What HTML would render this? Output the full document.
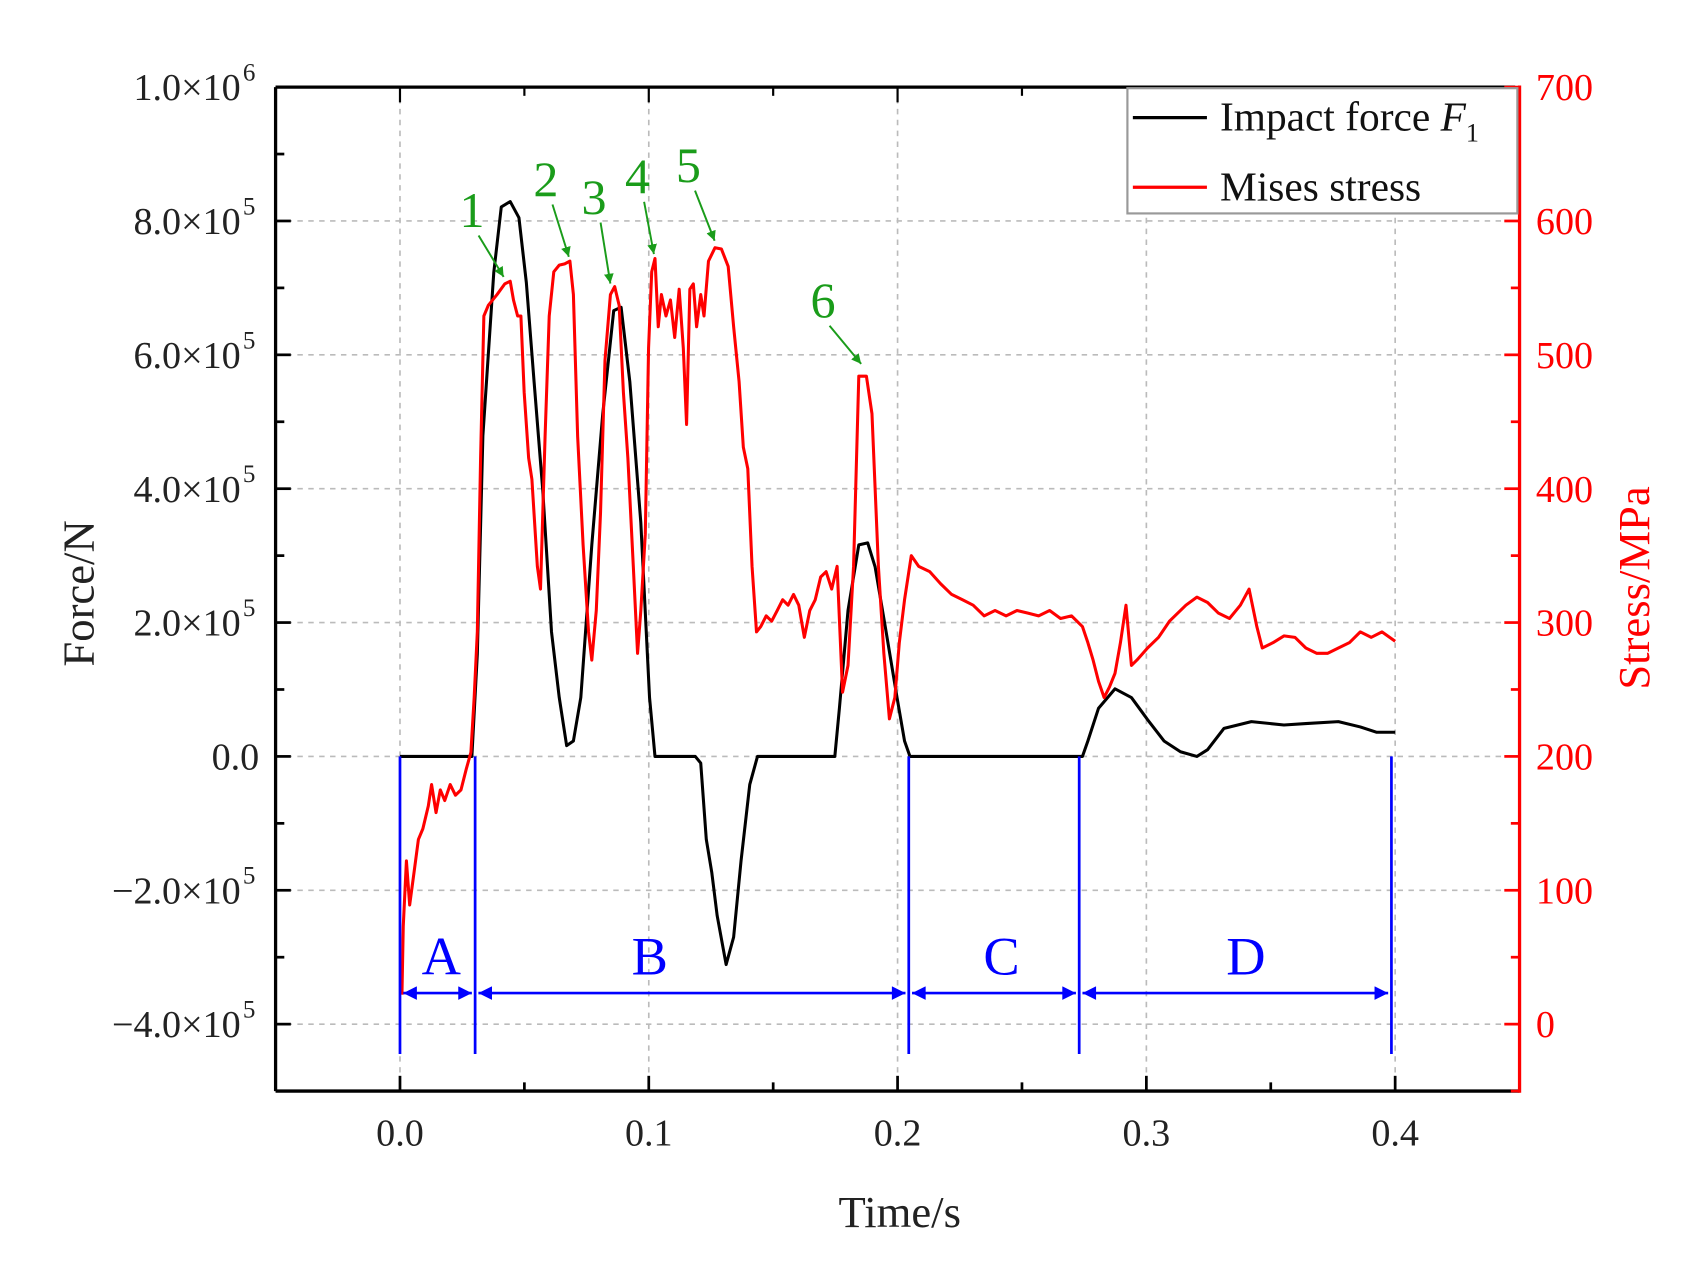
<!DOCTYPE html>
<html><head><meta charset="utf-8"><style>
html,body{margin:0;padding:0;background:#fff;}
svg{display:block;}
text{font-family:"Liberation Serif",serif;}
</style></head><body>
<svg id="chart" width="1708" height="1274" viewBox="0 0 1568 1170" preserveAspectRatio="none" xmlns="http://www.w3.org/2000/svg">
<g id="grid"></g>
<g id="axes"></g>
<g id="series"></g>
<g id="annot"></g>
</svg>
<script>
const forceT=[0,0.0289,0.0311,0.0333,0.0377,0.0407,0.0443,0.0478,0.0508,0.0539,0.0574,0.0609,0.0640,0.0670,0.0697,0.0727,0.0771,0.0815,0.0859,0.0889,0.0924,0.0968,0.1003,0.1025,0.1187,0.1209,0.1231,0.1253,0.1275,0.1311,0.1341,0.1371,0.1406,0.1437,0.1748,0.1766,0.1801,0.1844,0.1880,0.1910,0.1954,0.1998,0.2028,0.2050,0.2743,0.2765,0.2808,0.2874,0.2940,0.3005,0.3071,0.3137,0.3203,0.3246,0.3312,0.3422,0.3553,0.3641,0.3772,0.3860,0.3926,0.4000];
const forceV=[0,0,1.53,4.79,7.23,8.21,8.29,8.05,7.08,5.60,3.97,1.86,0.88,0.16,0.23,0.88,3.16,5.11,6.66,6.71,5.60,3.49,0.88,0,0,-0.10,-1.24,-1.73,-2.38,-3.11,-2.70,-1.56,-0.42,0,0,0.72,2.18,3.16,3.19,2.83,1.86,0.88,0.23,0,0,0.23,0.72,1.01,0.88,0.55,0.23,0.07,0,0.10,0.42,0.52,0.47,0.49,0.52,0.44,0.36,0.36];
const stressT=[0.0008,0.0013,0.0026,0.0039,0.0057,0.0074,0.0092,0.0114,0.0127,0.0145,0.0162,0.0180,0.0202,0.0223,0.0245,0.0267,0.0285,0.0298,0.0311,0.0324,0.0337,0.0355,0.0390,0.0421,0.0443,0.0456,0.0473,0.0486,0.0499,0.0517,0.0530,0.0552,0.0565,0.0583,0.0600,0.0618,0.0640,0.0662,0.0683,0.0697,0.0714,0.0736,0.0758,0.0771,0.0789,0.0806,0.0824,0.0846,0.0863,0.0881,0.0898,0.0916,0.0938,0.0955,0.0968,0.0986,0.0999,0.1012,0.1025,0.1038,0.1051,0.1069,0.1087,0.1104,0.1122,0.1139,0.1152,0.1165,0.1179,0.1192,0.1209,0.1222,0.1240,0.1266,0.1292,0.1319,0.1341,0.1363,0.1380,0.1398,0.1415,0.1433,0.1450,0.1472,0.1494,0.1516,0.1538,0.1560,0.1582,0.1603,0.1625,0.1647,0.1669,0.1691,0.1713,0.1735,0.1757,0.1779,0.1801,0.1823,0.1844,0.1875,0.1897,0.1923,0.1945,0.1967,0.1989,0.2007,0.2028,0.2055,0.2085,0.2129,0.2173,0.2217,0.2261,0.2304,0.2348,0.2392,0.2436,0.2480,0.2524,0.2567,0.2611,0.2655,0.2699,0.2743,0.2765,0.2786,0.2808,0.2830,0.2852,0.2874,0.2896,0.2918,0.2940,0.2962,0.3005,0.3049,0.3093,0.3159,0.3203,0.3246,0.3290,0.3334,0.3378,0.3413,0.3444,0.3466,0.3509,0.3553,0.3597,0.3641,0.3685,0.3728,0.3772,0.3816,0.3860,0.3904,0.3947,0.4000];
const stressV=[22,73,122,89,114,138,146,163,179,158,175,167,179,171,175,191,203,244,293,423,529,537,545,553,555,541,529,529,472,423,407,342,325,439,529,562,567,568,570,545,439,358,293,272,309,382,496,545,551,537,472,423,342,277,309,366,505,562,572,521,545,529,541,513,549,505,448,549,553,521,545,529,570,580,579,566,521,480,431,415,342,293,297,305,301,309,317,313,321,313,289,309,317,334,338,325,342,248,268,342,484,484,456,342,277,228,244,285,317,350,342,338,329,321,317,313,305,309,305,309,307,305,309,303,305,297,285,272,256,244,252,262,285,313,268,272,281,289,301,313,319,315,307,303,313,325,297,281,285,290,289,281,277,277,281,285,293,289,293,286];
const xTicks=[0,0.1,0.2,0.3,0.4];
const xTickLabels=["0.0","0.1","0.2","0.3","0.4"];
const yTicks=[-4,-2,0,2,4,6,8,10];
const yMant=["\u22124.0","\u22122.0","0.0","2.0","4.0","6.0","8.0","1.0"];
const yExp=["5","5","","5","5","5","5","6"];
const y2Ticks=[0,100,200,300,400,500,600,700];
const phaseT=[0,0.0302,0.2045,0.2730,0.3985];
const phaseLabels=["A","B","C","D"];
const phaseLabelT=[0.0166,0.1004,0.2418,0.3400];
const peakLabels=["1","2","3","4","5","6"];
const peakT=[0.0421,0.0683,0.0850,0.1025,0.1269,0.1858];
const peakS=[555,570,550,572,582,490];

const L=253,R=1395,T=80,B=1002;
const X=t=>L+(t+0.05)/0.5*(R-L);
const Y=v=>B-(v+5)/15*(B-T);
const Y2=s=>B-(s+50)/750*(B-T);
const NS="http://www.w3.org/2000/svg";
function mk(tag,attrs,parent,txt){const e=document.createElementNS(NS,tag);for(const k in attrs)e.setAttribute(k,attrs[k]);if(txt!==undefined)e.textContent=txt;parent.appendChild(e);return e;}
const grid=document.getElementById('grid'),axes=document.getElementById('axes'),series=document.getElementById('series'),annot=document.getElementById('annot');

xTicks.forEach(t=>{const g=mk('line',{x1:X(t),x2:X(t),y1:T,y2:B,stroke:'#bbb','stroke-width':1.5,'stroke-dasharray':'5,5'},grid);
});
yTicks.forEach(v=>{const g=mk('line',{x1:L,x2:R,y1:Y(v),y2:Y(v),stroke:'#bbb','stroke-width':1.5,'stroke-dasharray':'5,5'},grid);
});

let e=mk('line',{x1:L,x2:R,y1:B,y2:B,stroke:'#000','stroke-width':3},axes);
e=mk('line',{x1:L,x2:R-4,y1:T,y2:T,stroke:'#000','stroke-width':3},axes);
e=mk('line',{x1:L,x2:L,y1:T,y2:B,stroke:'#000','stroke-width':3},axes);
e=mk('line',{x1:R,x2:R,y1:T-1.5,y2:B+1.5,stroke:'#f00','stroke-width':3},axes);

for(let i=0;i<=8;i++){const t=i*0.05;const len=(i%2===0)?14:8;
 e=mk('line',{x1:X(t),x2:X(t),y1:B,y2:B-len,stroke:'#000','stroke-width':2.5},axes);
 e=mk('line',{x1:X(t),x2:X(t),y1:T,y2:T+len,stroke:'#000','stroke-width':2},axes);}
xTicks.forEach((t,i)=>{e=mk('text',{x:X(t),y:1052,'font-size':35,'text-anchor':'middle',fill:'#222'},axes,xTickLabels[i]);});
for(let v=-5;v<=10;v++){const len=(v%2===0)?14:8;
 e=mk('line',{x1:L,x2:L+len,y1:Y(v),y2:Y(v),stroke:'#000','stroke-width':2.5},axes);}
yTicks.forEach((v,i)=>{const tx=mk('text',{x:yExp[i]?221:238,y:Y(v)+12,'font-size':35,'text-anchor':'end',fill:'#222'},axes);
 
 tx.textContent=yExp[i]?yMant[i]+"\u00d710":yMant[i];
 if(yExp[i]){const s=mk('text',{x:223,y:Y(v)-6,'font-size':23,fill:'#222'},axes,yExp[i]);}
});
for(let s=-50;s<=700;s+=50){const len=(s%100===0)?14:8;
 e=mk('line',{x1:R,x2:R-len,y1:Y2(s),y2:Y2(s),stroke:'#f00','stroke-width':2.5},axes);}
y2Ticks.forEach(s=>{e=mk('text',{x:1410,y:Y2(s)+12,'font-size':35,fill:'#f00'},axes,String(s));});
e=mk('text',{x:826,y:1127,'font-size':41,'text-anchor':'middle',fill:'#222'},axes,'Time/s');
e=mk('text',{x:0,y:0,'font-size':41,'text-anchor':'middle',fill:'#222',transform:'translate(86,545) rotate(-90)'},axes,'Force/N');
e=mk('text',{x:0,y:0,'font-size':41,'text-anchor':'middle',fill:'#f00',transform:'translate(1514,540) rotate(-90)'},axes,'Stress/MPa');

let d=forceT.map((t,i)=>(i?'L':'M')+X(t).toFixed(1)+','+Y(forceV[i]).toFixed(1)).join('');
e=mk('path',{d:d,fill:'none',stroke:'#000','stroke-width':2.8,'stroke-linejoin':'round'},series);
d=stressT.map((t,i)=>(i?'L':'M')+X(t).toFixed(1)+','+Y2(stressV[i]).toFixed(1)).join('');
e=mk('path',{d:d,fill:'none',stroke:'#f00','stroke-width':2.8,'stroke-linejoin':'round'},series);

const py0=Y(0),py1=968,ay=912;
mk('defs',{},annot).innerHTML='<marker id="ah" viewBox="0 0 10 10" refX="10" refY="5" markerWidth="6" markerHeight="5" orient="auto-start-reverse"><path d="M0,0L10,5L0,10z" fill="#00f"/></marker><marker id="gh" viewBox="0 0 10 10" refX="10" refY="5" markerWidth="5" markerHeight="5" orient="auto"><path d="M0,0L10,5L0,10z" fill="#1a9c1a"/></marker>';
phaseT.forEach(t=>{e=mk('line',{x1:X(t),x2:X(t),y1:py0,y2:py1,stroke:'#00f','stroke-width':2.5},annot);});
phaseLabels.forEach((lab,i)=>{const a=X(phaseT[i])+3,b=X(phaseT[i+1])-3;
 e=mk('line',{x1:a,x2:b,y1:ay,y2:ay,stroke:'#00f','stroke-width':2.5,'marker-start':'url(#ah)','marker-end':'url(#ah)'},annot);
 e=mk('text',{x:X(phaseLabelT[i]),y:ay-17,'font-size':50,'text-anchor':'middle',fill:'#00f'},annot,lab);});
const lblOff=[[-30,-50],[-22,-60],[-16,-68],[-16,-60],[-25,-58],[-36,-47]];
peakLabels.forEach((lab,i)=>{const px=X(peakT[i]),py=Y2(peakS[i]);const lx=px+lblOff[i][0],ly=py+lblOff[i][1];
 e=mk('text',{x:lx,y:ly,'font-size':46,'text-anchor':'middle',fill:'#1a9c1a'},annot,lab);
 e=mk('line',{x1:lx+6,x2:px-1,y1:ly+8,y2:py-4,stroke:'#1a9c1a','stroke-width':1.8,'marker-end':'url(#gh)'},annot);});

const lg=mk('g',{},annot);
mk('rect',{x:1035,y:81,width:358,height:115,fill:'#fff',stroke:'#999','stroke-width':2},lg);
e=mk('line',{x1:1040,x2:1108,y1:108,y2:108,stroke:'#000','stroke-width':3},lg);
e=mk('text',{x:1120,y:120,'font-size':38,fill:'#111'},lg);
e.innerHTML='Impact force <tspan font-style="italic">F</tspan><tspan font-size="24" dy="10">1</tspan>';
e=mk('line',{x1:1040,x2:1108,y1:172,y2:172,stroke:'#f00','stroke-width':3},lg);
e=mk('text',{x:1120,y:184,'font-size':38,fill:'#111'},lg,'Mises stress');
</script>
</body></html>
